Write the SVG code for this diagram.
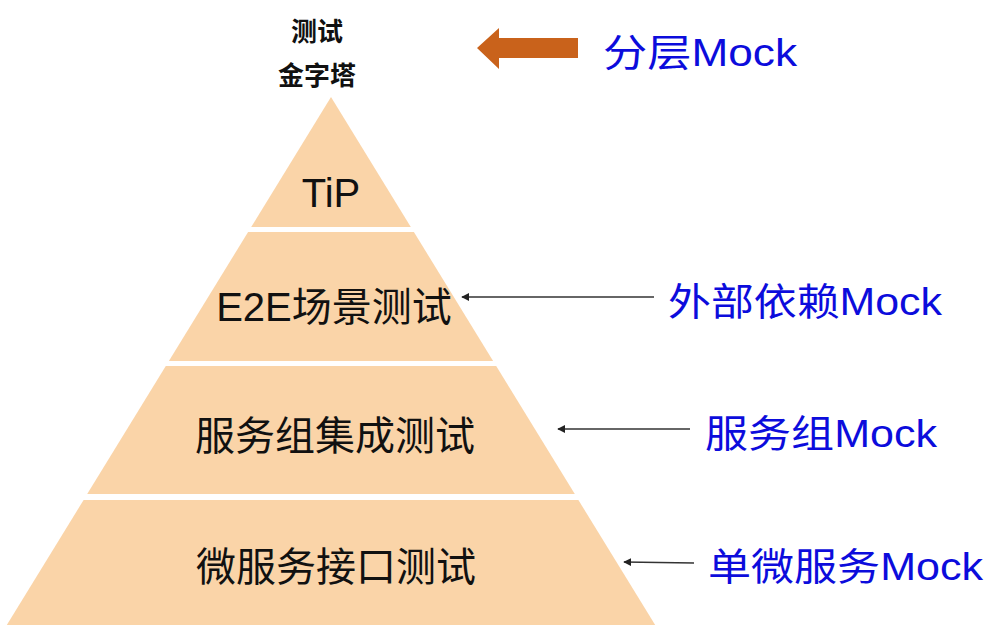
<svg xmlns="http://www.w3.org/2000/svg" width="990" height="634" viewBox="0 0 990 634">
<defs>
<style>
.t{font-family:"Liberation Sans","Noto Sans CJK SC",sans-serif;}
.layer{fill:#FAD4A8;}
.lbl{font-size:40px;fill:#111;text-anchor:middle;}
.blue{font-size:38px;fill:#0C0CDC;}
.title{font-size:26px;fill:#111;text-anchor:middle;font-weight:bold;}
.conn{stroke:#333;stroke-width:1.5;fill:none;marker-end:url(#ah);}
</style>
<marker id="ah" viewBox="0 0 10 10" refX="9" refY="5" markerWidth="8" markerHeight="8" markerUnits="userSpaceOnUse" orient="auto">
<path d="M0,0 L10,5 L0,10 z" fill="#222"/>
</marker>
</defs>
<rect width="990" height="634" fill="#fff"/>
<g id="title">
<text class="t title" x="317" y="41">测试</text>
<text class="t title" x="317" y="85">金字塔</text>
</g>
<g id="layered-arrow">
<polygon points="477,48 499,28 499,38 578,38 578,58 499,58 499,69" fill="#C9621B"/>
</g>
<g id="label-layered">
<text class="t blue" x="603" y="66" textLength="194" lengthAdjust="spacingAndGlyphs">分层Mock</text>
</g>
<g id="layer-tip">
<polygon class="layer" points="331,97 410.8,227 251.2,227"/>
<text class="t lbl" x="331" y="207">TiP</text>
</g>
<g id="layer-e2e">
<polygon class="layer" points="248.1,232 413.9,232 493.1,361 168.9,361"/>
<text class="t lbl" x="334" y="321">E2E场景测试</text>
</g>
<g id="layer-group">
<polygon class="layer" points="165.8,366 496.2,366 574.8,494 87.2,494"/>
<text class="t lbl" x="335" y="450">服务组集成测试</text>
</g>
<g id="layer-micro">
<polygon class="layer" points="83.6,500 578.4,500 655.2,625 6.8,625"/>
<text class="t lbl" x="336" y="581">微服务接口测试</text>
</g>
<g id="label-external">
<text class="t blue" x="668" y="315" textLength="274" lengthAdjust="spacingAndGlyphs">外部依赖Mock</text>
</g>
<g id="label-group">
<text class="t blue" x="705" y="447" textLength="232" lengthAdjust="spacingAndGlyphs">服务组Mock</text>
</g>
<g id="label-single">
<text class="t blue" x="708" y="580" textLength="275" lengthAdjust="spacingAndGlyphs">单微服务Mock</text>
</g>
<g id="connectors">
<line class="conn" x1="654" y1="297" x2="462" y2="297"/>
<line class="conn" x1="690" y1="429" x2="558" y2="429"/>
<line class="conn" x1="694" y1="563" x2="624" y2="562"/>
</g>
</svg>
